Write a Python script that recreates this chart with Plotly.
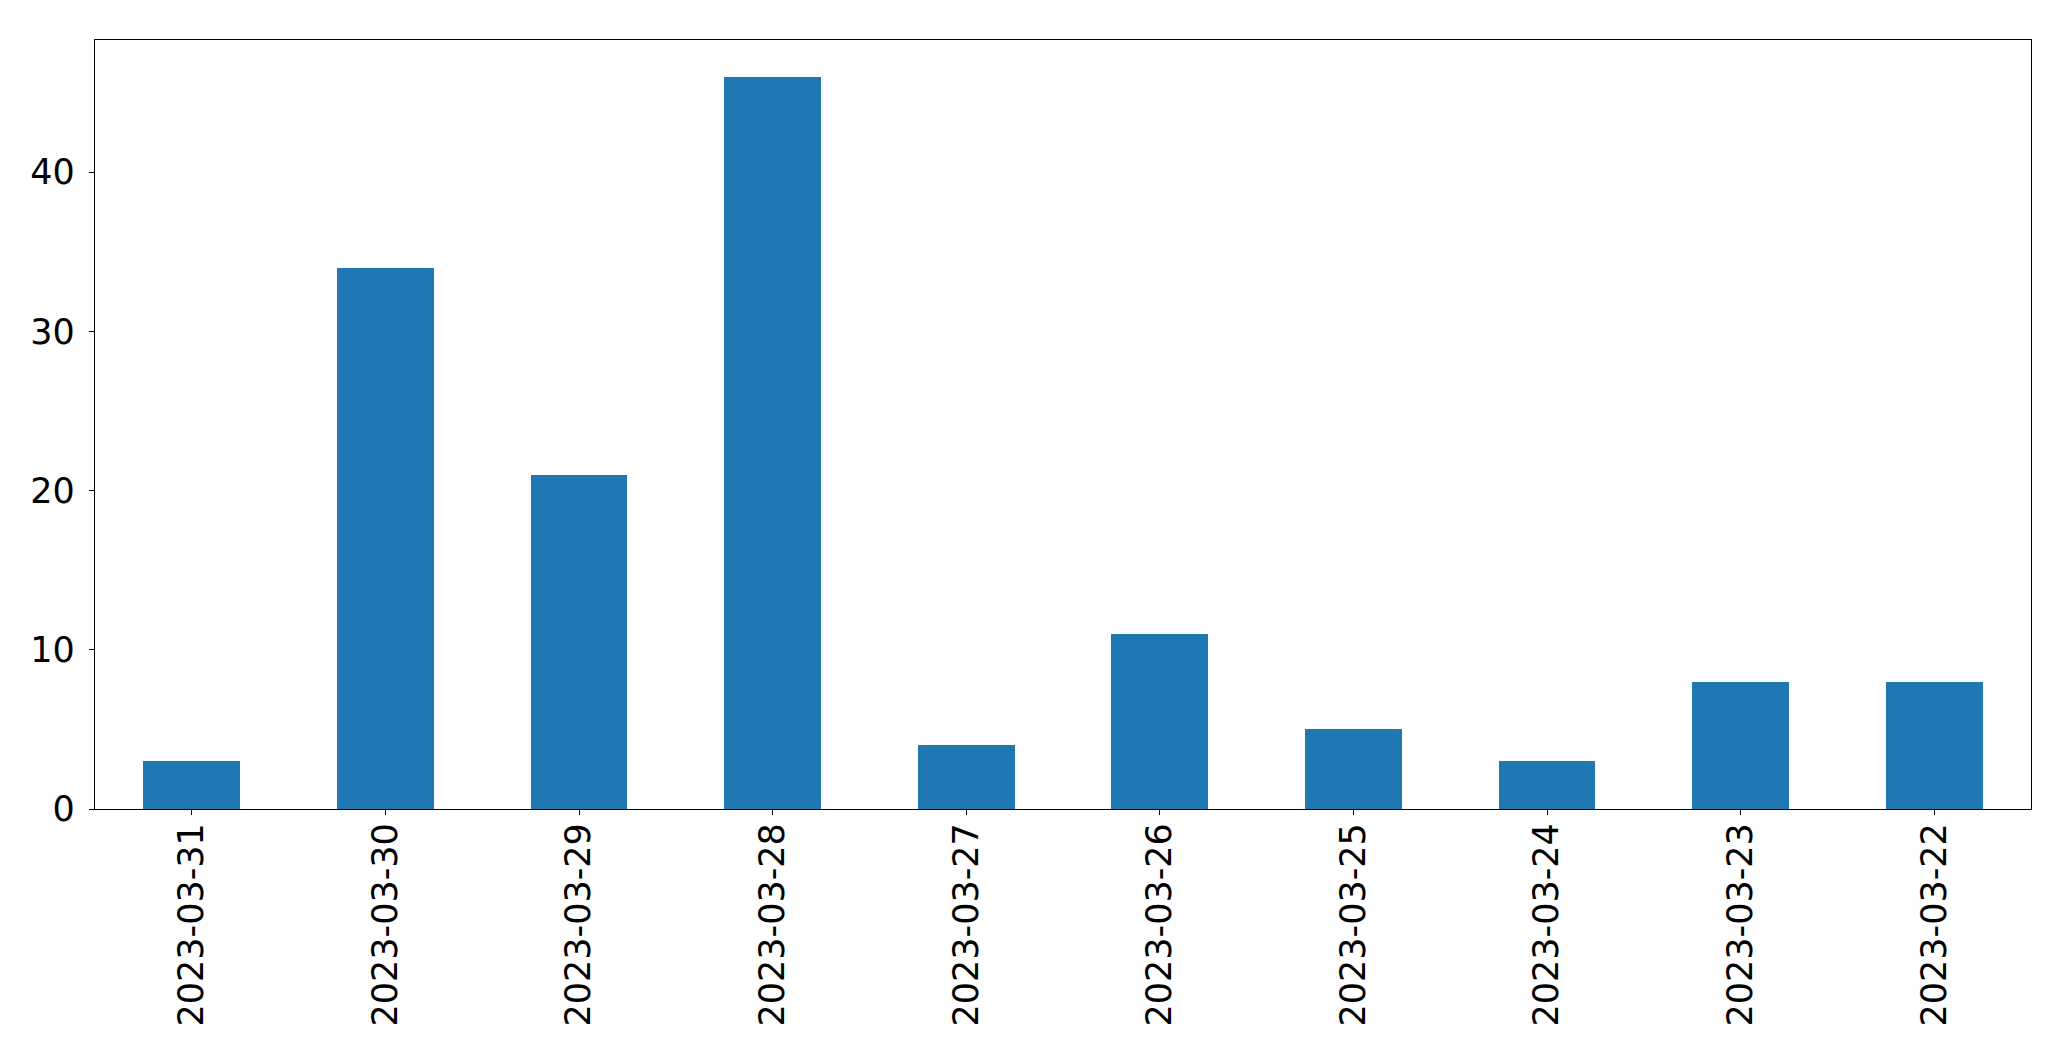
import plotly.graph_objects as go

dates = ["2023-03-31", "2023-03-30", "2023-03-29", "2023-03-28", "2023-03-27",
         "2023-03-26", "2023-03-25", "2023-03-24", "2023-03-23", "2023-03-22"]
counts = [3, 34, 21, 46, 4, 11, 5, 3, 8, 8]

fig = go.Figure(go.Bar(x=dates, y=counts, width=0.5, marker=dict(color="#1f77b4", line=dict(width=0))))

font = dict(family="DejaVu Sans", size=35, color="black")
fig.update_layout(
    width=2055, height=1045,
    margin=dict(l=86.5, r=31.5, t=31.5, b=244, autoexpand=False),
    paper_bgcolor="white", plot_bgcolor="white",
    showlegend=False, bargap=0,
)
fig.update_xaxes(type="category", range=[-0.5, 9.5], tickangle=-90, tickfont=font,
                 showline=True, linecolor="black", linewidth=1.3, mirror=True,
                 ticks="outside", ticklen=5, tickwidth=1.3, tickcolor="black",
                 showgrid=False, zeroline=False, ticklabelstandoff=-6)
fig.update_yaxes(range=[0, 48.3], tickvals=[0, 10, 20, 30, 40], tickfont=font,
                 showline=True, linecolor="black", linewidth=1.3, mirror=True,
                 ticks="outside", ticklen=5, tickwidth=1.3, tickcolor="black",
                 showgrid=False, zeroline=False, ticklabelstandoff=7)

fig.write_html("out.html")
